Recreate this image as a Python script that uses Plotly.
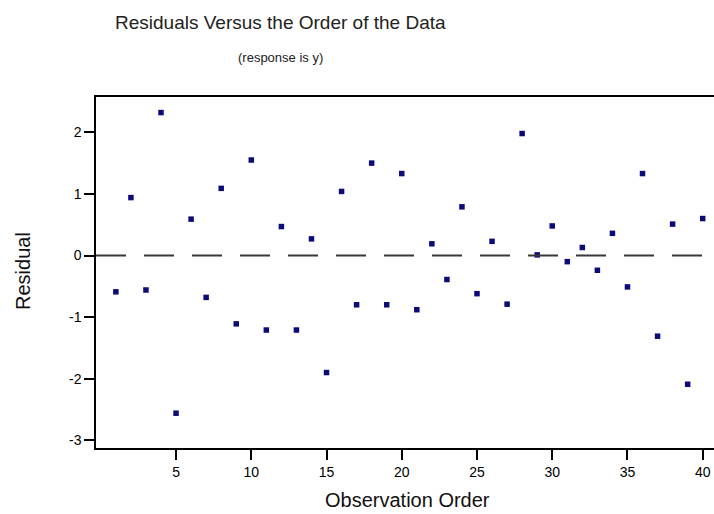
import plotly.graph_objects as go

observation = list(range(1, 41))
residual = [-0.59, 0.94, -0.56, 2.32, -2.56, 0.59, -0.68, 1.09, -1.11, 1.55,
            -1.21, 0.47, -1.21, 0.27, -1.90, 1.04, -0.80, 1.50, -0.80, 1.33,
            -0.88, 0.19, -0.39, 0.79, -0.62, 0.23, -0.79, 1.98, 0.01, 0.48,
            -0.10, 0.13, -0.24, 0.36, -0.51, 1.33, -1.31, 0.51, -2.09, 0.60]
x_ticks = [5, 10, 15, 20, 25, 30, 35, 40]
y_ticks = [-3, -2, -1, 0, 1, 2]
ZERO_LINE = 0

W, H = 714, 514
L, R, T, B = 96, 0, 97, 66
PW, PH = W - L - R, H - T - B
FONT = "Liberation Sans, Arial, sans-serif"

fig = go.Figure()
fig.add_trace(go.Scatter(
    x=observation, y=residual, mode="markers",
    marker=dict(symbol="square", size=5.5, color="#0c0c78"),
    hoverinfo="x+y", showlegend=False))

fig.add_hline(y=ZERO_LINE, line=dict(color="#3a3a3a", width=2, dash="30px,18px"))

fig.update_layout(
    width=W, height=H,
    margin=dict(l=L, r=R, t=T, b=B, autoexpand=False),
    paper_bgcolor="white", plot_bgcolor="white",
    font=dict(family=FONT, color="black"),
)
fig.update_xaxes(
    range=[-0.32, 40.75], tickvals=x_ticks, ticktext=[str(v) for v in x_ticks],
    showgrid=False, zeroline=False, automargin=False,
    showline=True, linecolor="black", linewidth=1.5, mirror=True,
    ticks="outside", ticklen=10, tickwidth=1.5, tickcolor="black",
    tickfont=dict(size=14, color="black"),
)
fig.update_yaxes(
    range=[-3.125, 2.573], tickvals=y_ticks, ticktext=[str(v) for v in y_ticks],
    showgrid=False, zeroline=False, automargin=False,
    showline=True, linecolor="black", linewidth=1.5, mirror=False,
    ticks="outside", ticklen=10, tickwidth=1.5, tickcolor="black",
    tickfont=dict(size=14, color="black"),
)

def px_x(p):
    return (p - L) / PW

def px_y(p):
    return 1 - (p - T) / PH

fig.add_annotation(text="Residuals Versus the Order of the Data",
                   xref="paper", yref="paper", x=px_x(280), y=px_y(22),
                   xanchor="center", yanchor="middle", showarrow=False,
                   font=dict(size=19, color="#222"))
fig.add_annotation(text="(response is y)",
                   xref="paper", yref="paper", x=px_x(280), y=px_y(58),
                   xanchor="center", yanchor="middle", showarrow=False,
                   font=dict(size=13, color="#222"))
fig.add_annotation(text="Observation Order",
                   xref="paper", yref="paper", x=px_x(407), y=px_y(500),
                   xanchor="center", yanchor="middle", showarrow=False,
                   font=dict(size=20, color="#111"))
fig.add_annotation(text="Residual", textangle=-90,
                   xref="paper", yref="paper", x=px_x(23), y=px_y(271),
                   xanchor="center", yanchor="middle", showarrow=False,
                   font=dict(size=20, color="#111"))

fig.write_html("out.html", config={"displayModeBar": False},
               post_script="document.body.style.margin='0';")
